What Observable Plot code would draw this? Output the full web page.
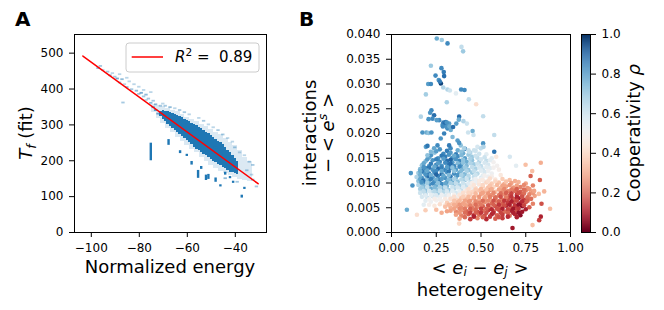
<!DOCTYPE html>
<html><head><meta charset="utf-8">
<script src="https://cdn.jsdelivr.net/npm/d3@7"></script>
<script src="https://cdn.jsdelivr.net/npm/@observablehq/plot@0.6"></script>
<style>
html,body{margin:0;padding:0;background:#fff;}
#wrap{position:relative;width:664px;height:310px;background:#fff;font-family:"DejaVu Sans",sans-serif;}
#wrap svg{position:absolute;left:0;top:0;}
</style></head><body><div id="wrap"></div>
<script>
// ---------------- Panel A data ----------------
const ticksAX = [-100, -80, -60, -40];
const ticksAY = [0, 100, 200, 300, 400, 500];
// dense core of the 2D histogram: energy column, solid range of T_f
const coreE  = [-71,-70,-69,-68,-67,-66,-65,-64,-63,-62,-61,-60,-59,-58,-57,-56,-55,-54,-53,-52,-51,-50,-49,-48,-47,-46,-45,-44,-43,-42,-41,-40,-39];
const coreLo = [324,316,310,302,296,290,284,278,272,268,262,256,250,246,238,232,228,224,218,214,208,204,198,194,190,186,182,178,174,168,166,164,162];
const coreHi = [338,340,338,336,335,332,330,326,323,320,316,312,309,305,302,298,294,290,285,280,276,270,265,260,255,250,244,238,230,222,214,206,198];
// lighter halo around the core
const haloE  = [-74,-72,-70,-68,-66,-64,-62,-60,-58,-56,-54,-52,-50,-48,-46,-44,-42,-40,-38,-36,-34];
const haloLo = [335,318,305,290,278,266,254,242,232,222,210,198,186,178,170,164,158,152,148,145,142];
const haloHi = [358,354,350,345,340,336,330,322,316,310,302,296,288,280,272,262,252,242,228,210,198];
// isolated light cells [energy, T_f, opacity]
const cellsA = [
  [-97,457,.5],[-96,463,.4],[-95,452,.3],[-93,447,.4],[-92,437,.5],[-91,443,.3],[-90,433,.4],[-89,428,.6],
  [-88,440,.3],[-88,417,.4],[-87,426,.5],[-86,412,.3],[-86.6,361,.4],[-85,430,.3],[-85,404,.5],[-84,420,.3],
  [-83,398,.4],[-82,412,.3],[-81,394,.5],[-80,385,.4],[-80,405,.3],[-79,388,.6],[-78,378,.4],[-78,396,.3],
  [-77,383,.5],[-77,368,.3],[-76,372,.4],[-75,390,.3],[-75,360,.5],[-74,366,.4],[-74,348,.6],[-73,356,.5],
  [-73,340,.7],[-72,330,.6],[-71,352,.4],[-70,358,.3],[-69,352,.4],[-67,348,.5],[-65,345,.3],[-63,340,.4],[-61,334,.4],
  [-59,328,.3],[-55,318,.3],[-53,310,.4],[-51,300,.3],[-49,292,.3],[-47,284,.4],[-45,272,.4],[-43,262,.3],
  [-41,252,.3],[-40,236,.4],[-38,222,.3],[-36,214,.3],[-34,196,.4],[-32.5,187,.4],[-32.5,146,.4],
  [-31,127,.4],[-33,160,.3],[-35,172,.4],[-39,140,.4],[-44,150,.5],
  [-64,300,.5],[-58,280,.45],[-52,250,.5],[-48,236,.45],[-56,262,.4],[-46,218,.5],[-62,290,.4]
];
// solid vertical streaks below the trend [energy, T_f low, T_f high]
const streaksA = [
  [-75,200,249],[-67.6,243,259],[-62.8,220,228],[-58,188,198],[-55.3,151,173],[-52,145,160],
  [-51,148,162],[-48,140,152],[-46,127,133],[-42,150,156],[-40.7,137,143],[-37.1,96,104],
  [-36,120,126],[-44,160,168],[-54,176,184],[-60,212,218]
];
// fitted line
const fitE = [-103.5, -30.5];
const fitT = [492, 136];

// ---------------- Panel B data ----------------
const ticksBX = [0, 0.25, 0.5, 0.75, 1.0];
const ticksBY = [0, 0.005, 0.01, 0.015, 0.02, 0.025, 0.03, 0.035, 0.04];
const ticksCB = [0, 0.2, 0.4, 0.6, 0.8, 1.0];
// [heterogeneity, interactions, cooperativity]
const blueCloud = [
  [.27,.0168,.8],[.33,.0170,.82],[.37,.0166,.75],[.41,.0169,.85],[.47,.0165,.6],
  [.24,.0161,.7],[.29,.0159,.82],[.33,.0161,.78],[.36,.0158,.85],[.40,.0160,.75],[.44,.0161,.65],[.49,.0159,.6],[.53,.0158,.55],
  [.21,.0152,.75],[.26,.0150,.8],[.30,.0153,.85],[.34,.0151,.8],[.37,.0154,.82],[.41,.0150,.78],[.45,.0153,.68],[.48,.0151,.62],[.52,.0152,.6],[.56,.0150,.55],
  [.19,.0144,.72],[.23,.0146,.8],[.27,.0143,.82],[.31,.0145,.88],[.34,.0142,.78],[.38,.0145,.83],[.42,.0143,.75],[.45,.0146,.7],[.49,.0143,.65],[.53,.0145,.62],[.57,.0142,.5],
  [.17,.0136,.7],[.21,.0134,.78],[.25,.0137,.85],[.28,.0135,.8],[.32,.0138,.86],[.35,.0134,.82],[.39,.0137,.78],[.42,.0135,.72],[.46,.0138,.68],[.50,.0134,.62],[.54,.0137,.58],[.59,.0135,.5],
  [.16,.0128,.72],[.19,.0130,.82],[.23,.0127,.8],[.26,.0129,.88],[.30,.0126,.83],[.33,.0130,.85],[.36,.0127,.78],[.40,.0129,.75],[.43,.0126,.7],[.47,.0129,.66],[.51,.0127,.6],[.55,.0130,.55],[.60,.0127,.48],
  [.15,.0120,.68],[.18,.0122,.78],[.21,.0119,.85],[.24,.0121,.82],[.28,.0118,.9],[.31,.0122,.8],[.35,.0119,.82],[.38,.0121,.75],[.41,.0118,.72],[.45,.0121,.68],[.48,.0119,.64],[.52,.0122,.58],[.56,.0119,.52],
  [.14,.0112,.65],[.17,.0110,.8],[.20,.0113,.88],[.23,.0111,.78],[.26,.0114,.83],[.30,.0110,.8],[.33,.0113,.85],[.36,.0111,.72],[.40,.0114,.7],[.43,.0110,.68],[.46,.0112,.62],[.50,.0110,.58],[.54,.0113,.52],
  [.15,.0104,.7],[.18,.0102,.82],[.21,.0105,.75],[.24,.0103,.8],[.27,.0106,.86],[.31,.0102,.78],[.34,.0105,.76],[.37,.0103,.7],[.41,.0106,.68],[.44,.0102,.62],[.48,.0104,.58],[.52,.0103,.52],
  [.15,.0096,.65],[.18,.0094,.72],[.21,.0097,.8],[.25,.0095,.75],[.28,.0098,.82],[.31,.0094,.72],[.35,.0097,.7],[.38,.0095,.66],[.42,.0096,.62],[.45,.0094,.58],[.49,.0097,.55],
  [.16,.0088,.66],[.19,.0086,.7],[.22,.0089,.75],[.25,.0087,.7],[.29,.0090,.72],[.32,.0086,.68],[.35,.0089,.64],[.39,.0087,.62],[.42,.0088,.58],[.46,.0086,.55],
  [.16,.0080,.6],[.19,.0078,.66],[.22,.0081,.62],[.26,.0079,.68],[.29,.0082,.64],[.32,.0078,.6],[.36,.0080,.58],[.39,.0079,.56],[.43,.0081,.52],
  [.17,.0072,.58],[.20,.0070,.6],[.23,.0073,.58],[.27,.0071,.55],[.30,.0074,.56],[.33,.0070,.53],[.37,.0072,.52],[.40,.0071,.5],
  [.19,.0064,.55],[.22,.0062,.52],[.25,.0065,.5],[.28,.0063,.48],[.32,.0064,.5],[.35,.0062,.46],
  [.21,.0056,.48],[.24,.0054,.45],[.27,.0057,.42],[.30,.0055,.44],[.18,.0056,.55]
];
// in-between points of the dense blue core
const blueCore2 = [
  [.25,.0164,.78],[.31,.0165,.85],[.39,.0163,.7],[.43,.0166,.62],
  [.22,.0156,.8],[.28,.0155,.86],[.32,.0157,.8],[.35,.0155,.75],[.39,.0156,.72],[.43,.0157,.68],[.47,.0155,.6],
  [.20,.0148,.78],[.25,.0148,.84],[.29,.0149,.78],[.33,.0147,.9],[.36,.0148,.8],[.40,.0147,.7],[.44,.0149,.66],[.50,.0148,.58],[.55,.0146,.55],
  [.18,.0140,.76],[.22,.0139,.85],[.26,.0140,.78],[.30,.0141,.82],[.33,.0139,.88],[.37,.0140,.72],[.40,.0141,.7],[.44,.0140,.65],[.48,.0139,.6],[.52,.0141,.58],
  [.18,.0132,.8],[.21,.0131,.86],[.24,.0133,.76],[.28,.0131,.84],[.31,.0132,.78],[.34,.0131,.7],[.38,.0133,.82],[.41,.0131,.68],[.45,.0132,.62],[.49,.0131,.58],[.53,.0132,.55],[.57,.0131,.5],
  [.17,.0124,.85],[.20,.0125,.76],[.25,.0124,.82],[.28,.0124,.76],[.32,.0123,.86],[.35,.0124,.7],[.39,.0125,.72],[.42,.0124,.66],[.46,.0124,.62],[.50,.0125,.56],[.54,.0124,.52],
  [.16,.0116,.74],[.19,.0117,.8],[.22,.0116,.74],[.25,.0117,.9],[.29,.0115,.76],[.32,.0116,.72],[.37,.0116,.8],[.39,.0116,.66],[.43,.0115,.64],[.47,.0116,.6],[.51,.0115,.55],
  [.16,.0108,.76],[.19,.0107,.7],[.22,.0108,.84],[.25,.0107,.74],[.28,.0108,.78],[.32,.0107,.72],[.35,.0108,.66],[.39,.0107,.64],[.42,.0108,.6],[.46,.0107,.56],[.50,.0108,.52],
  [.17,.0099,.74],[.20,.0100,.68],[.23,.0099,.82],[.26,.0100,.7],[.30,.0099,.76],[.33,.0100,.66],[.36,.0099,.62],[.40,.0100,.6],[.43,.0099,.56],[.47,.0100,.52],
  [.17,.0091,.68],[.20,.0092,.62],[.24,.0091,.72],[.27,.0092,.66],[.30,.0091,.62],[.34,.0092,.6],[.37,.0091,.58],[.40,.0092,.56],[.44,.0091,.52],
  [.18,.0083,.62],[.21,.0084,.58],[.24,.0083,.64],[.27,.0084,.6],[.31,.0083,.58],[.34,.0084,.55],[.38,.0083,.54],[.41,.0084,.5],
  [.19,.0075,.56],[.22,.0076,.54],[.25,.0075,.57],[.28,.0076,.52],[.32,.0075,.5],[.35,.0076,.49],[.38,.0075,.48],
  [.21,.0067,.5],[.24,.0068,.48],[.27,.0067,.5],[.30,.0068,.46],[.34,.0067,.47],[.37,.0066,.44]
];
// blue points just above the dense cloud
const blueUpper = [
  [.266,.0227,.82],[.285,.0217,.8],[.303,.0223,.86],[.322,.0220,.78],[.313,.0210,.82],[.331,.0207,.75],
  [.294,.0200,.84],[.275,.0190,.8],[.341,.0193,.72],[.369,.0186,.78],[.387,.0176,.7],[.406,.0170,.66],
  [.434,.0163,.62],[.461,.0166,.6],[.48,.0173,.58],[.499,.0170,.62],[.257,.0176,.82],[.238,.0170,.76],
  [.22,.0163,.72],[.192,.0173,.78],[.201,.0156,.7],[.322,.0176,.85]
];
const redCloud = [
  [.52,.0115,.5],[.56,.0113,.48],[.61,.0116,.45],
  [.47,.0108,.52],[.51,.0106,.46],[.55,.0109,.42],[.58,.0107,.44],[.62,.0108,.38],[.66,.0106,.35],
  [.45,.0100,.48],[.49,.0098,.44],[.53,.0101,.4],[.56,.0099,.38],[.60,.0101,.36],[.63,.0098,.32],[.67,.0100,.3],[.71,.0102,.33],[.75,.0099,.3],
  [.44,.0092,.46],[.47,.0090,.42],[.51,.0093,.38],[.54,.0091,.35],[.57,.0092,.4],[.61,.0090,.33],[.64,.0093,.3],[.68,.0091,.28],[.72,.0092,.25],[.76,.0090,.28],
  [.42,.0084,.44],[.45,.0082,.4],[.49,.0085,.36],[.52,.0083,.33],[.55,.0086,.3],[.58,.0082,.35],[.62,.0085,.28],[.65,.0083,.25],[.69,.0084,.22],[.72,.0082,.2],[.75,.0085,.25],[.78,.0083,.3],
  [.38,.0076,.44],[.41,.0074,.42],[.44,.0077,.38],[.47,.0075,.35],[.50,.0078,.3],[.53,.0074,.33],[.56,.0076,.28],[.60,.0075,.24],[.63,.0077,.27],[.66,.0074,.2],[.70,.0076,.15],[.73,.0075,.2],[.77,.0077,.25],[.80,.0074,.3],
  [.33,.0068,.42],[.36,.0066,.4],[.39,.0069,.36],[.42,.0067,.34],[.46,.0069,.3],[.49,.0066,.32],[.52,.0068,.27],[.55,.0067,.3],[.58,.0069,.22],[.62,.0066,.25],[.65,.0068,.18],[.68,.0067,.2],[.71,.0069,.08],[.74,.0066,.15],[.78,.0068,.22],
  [.31,.0060,.38],[.34,.0058,.36],[.37,.0061,.33],[.40,.0059,.3],[.43,.0062,.28],[.46,.0058,.32],[.49,.0060,.25],[.52,.0061,.28],[.56,.0059,.22],[.59,.0062,.26],[.62,.0058,.2],[.65,.0060,.15],[.68,.0061,.18],[.72,.0059,.1],[.75,.0061,.2],[.79,.0058,.25],
  [.30,.0052,.35],[.33,.0050,.32],[.36,.0053,.3],[.39,.0051,.27],[.42,.0054,.3],[.45,.0050,.24],[.48,.0052,.26],[.51,.0053,.2],[.55,.0050,.25],[.58,.0053,.18],[.61,.0051,.22],[.64,.0054,.12],[.67,.0050,.2],[.70,.0052,.15],[.73,.0053,.06],[.77,.0051,.2],
  [.33,.0044,.3],[.36,.0042,.26],[.39,.0045,.28],[.42,.0043,.2],[.45,.0046,.25],[.48,.0042,.18],[.51,.0044,.22],[.54,.0045,.15],[.57,.0043,.2],[.60,.0046,.17],[.63,.0042,.22],[.67,.0044,.1],[.70,.0045,.18],[.73,.0042,.08],
  [.36,.0036,.3],[.39,.0034,.25],[.43,.0037,.2],[.46,.0035,.12],[.49,.0036,.22],[.52,.0034,.18],[.56,.0037,.1],[.59,.0035,.2],[.62,.0036,.15],[.66,.0034,.22],[.69,.0037,.12],[.72,.0035,.05],
  [.38,.0028,.3],[.44,.0027,.15],[.48,.0029,.25],[.53,.0027,.12],[.58,.0028,.2],[.62,.0029,.15],
  [.19,.0045,.38],[.25,.0046,.35],[.28,.0040,.32],[.31,.0043,.3]
];
// in-between points of the dense red core
const redCore2 = [
  [.49,.0104,.46],[.54,.0104,.42],[.58,.0103,.4],[.64,.0103,.36],[.69,.0104,.32],
  [.46,.0096,.44],[.51,.0096,.4],[.55,.0095,.36],[.59,.0096,.34],[.62,.0095,.3],[.66,.0096,.28],[.70,.0095,.3],[.74,.0096,.26],
  [.43,.0088,.42],[.47,.0087,.38],[.50,.0088,.34],[.53,.0087,.36],[.56,.0088,.32],[.60,.0087,.3],[.63,.0088,.26],[.67,.0087,.24],[.70,.0088,.2],[.74,.0087,.22],[.77,.0088,.28],
  [.40,.0080,.42],[.43,.0080,.4],[.47,.0079,.34],[.51,.0080,.3],[.54,.0079,.28],[.57,.0080,.26],[.61,.0079,.22],[.64,.0080,.2],[.67,.0079,.16],[.71,.0080,.18],[.74,.0079,.22],[.79,.0080,.28],
  [.35,.0072,.42],[.40,.0072,.38],[.43,.0072,.34],[.46,.0071,.3],[.49,.0072,.28],[.52,.0071,.3],[.55,.0072,.25],[.58,.0071,.22],[.61,.0072,.18],[.64,.0071,.24],[.67,.0072,.14],[.70,.0071,.1],[.73,.0072,.18],[.76,.0071,.22],
  [.35,.0064,.36],[.38,.0064,.34],[.41,.0064,.3],[.44,.0064,.28],[.47,.0063,.26],[.51,.0064,.22],[.54,.0064,.26],[.57,.0064,.18],[.60,.0063,.2],[.63,.0064,.14],[.67,.0063,.1],[.70,.0064,.16],[.73,.0063,.12],[.76,.0064,.2],
  [.32,.0056,.34],[.35,.0056,.32],[.38,.0056,.28],[.41,.0056,.3],[.44,.0055,.25],[.47,.0056,.22],[.50,.0056,.24],[.54,.0055,.18],[.57,.0056,.2],[.60,.0056,.14],[.63,.0055,.18],[.66,.0056,.1],[.69,.0055,.14],[.71,.0056,.06],[.74,.0055,.16],
  [.35,.0048,.3],[.38,.0048,.26],[.41,.0048,.24],[.44,.0048,.2],[.47,.0047,.22],[.50,.0048,.16],[.53,.0048,.2],[.56,.0047,.12],[.59,.0048,.18],[.62,.0048,.1],[.65,.0047,.16],[.68,.0048,.08],[.71,.0048,.14],[.75,.0047,.1],
  [.38,.0040,.28],[.41,.0040,.22],[.44,.0040,.16],[.47,.0040,.2],[.50,.0040,.14],[.53,.0040,.18],[.57,.0040,.12],[.61,.0040,.16],[.65,.0040,.2],[.68,.0040,.1],[.71,.0040,.06],
  [.41,.0031,.22],[.46,.0032,.1],[.51,.0031,.2],[.55,.0032,.14],[.60,.0031,.18],[.65,.0032,.12],[.70,.0031,.1]
];
const sparsePoints = [
  [.253,.0392,.75],[.281,.0389,.68],[.313,.0382,.82],[.391,.0375,.62],[.40,.0366,.68],
  [.22,.0337,.68],[.279,.0332,.82],[.292,.0324,.85],[.246,.0317,.82],[.294,.0316,.88],[.264,.0308,.8],
  [.205,.030,.78],[.22,.030,.82],[.276,.0301,.97],[.27,.0305,.85],[.289,.0293,.65],[.313,.0289,.65],
  [.326,.0287,.6],[.389,.0289,.82],[.408,.0288,.82],[.36,.0281,.55],[.192,.0279,.67],[.309,.0263,.66],
  [.473,.0259,.42],[.432,.0269,.62],
  [.164,.0234,.65],[.223,.0247,.82],[.216,.0242,.8],[.238,.0237,.88],[.207,.0229,.8],[.229,.0230,.82],
  [.253,.0227,.78],[.29,.0222,.85],[.30,.0220,.88],[.309,.0222,.8],[.287,.0214,.82],[.309,.0213,.8],
  [.324,.0214,.75],[.344,.0213,.88],[.378,.0234,.88],[.376,.0228,.75],[.402,.0225,.65],[.362,.0220,.78],
  [.421,.0220,.6],[.453,.0205,.75],[.512,.0235,.62],[.574,.0197,.62],
  [.173,.0202,.8],[.195,.0202,.75],[.207,.0201,.7],[.223,.0202,.8],[.201,.0175,.86],[.428,.0202,.6],
  [.458,.0197,.6],[.378,.0181,.8],[.512,.0180,.8],[.514,.0173,.65],[.574,.0163,.87],[.585,.0153,.45],
  [.661,.0153,.58],[.696,.0135,.55],[.749,.0137,.35],[.777,.0114,.2],[.786,.0124,.35],[.834,.0141,.32],
  [.829,.0106,.2],[.79,.0095,.25],[.797,.0084,.3],[.823,.0078,.35],[.853,.0083,.33],[.838,.0058,.18],
  [.886,.0048,.35],[.834,.0032,.1],[.825,.0025,.15],[.788,.0015,.35],[.676,.0009,.08],
  [.086,.0046,.75],[.142,.0036,.42],[.108,.0120,.8],[.117,.0095,.8],[.160,.0124,.75],[.177,.0105,.87],
  [.168,.0102,.8],[.378,.0018,.4]
];

// ---------------- drawing ----------------
const W = 664, H = 310;
const FONT = '"DejaVu Sans", sans-serif';
const BLUE = "#1f77b4";
const wrap = document.getElementById("wrap");
const baseStyle = {fontFamily: FONT, fontSize: "12px", color: "#000", background: "none", overflow: "visible"};
const minus = d => (d < 0 ? "\u2212" + Math.abs(d) : String(d));

const core = coreE.map((e, i) => ({e, lo: coreLo[i], hi: coreHi[i]}));
const halo = haloE.map((e, i) => ({e, lo: haloLo[i], hi: haloHi[i]}));
const fit = fitE.map((e, i) => ({e, t: fitT[i]}));

const plotA = Plot.plot({
  width: W, height: H,
  marginLeft: 74, marginRight: W - 266, marginTop: 34, marginBottom: H - 232,
  style: baseStyle,
  x: {domain: [-107, -27]},
  y: {domain: [0, 552]},
  marks: [
    Plot.rect(halo, {x1: d => d.e - 1, x2: d => d.e + 1, y1: "lo", y2: "hi", fill: BLUE, fillOpacity: 0.16, inset: 0, shapeRendering: "crispEdges"}),
    Plot.rect(core, {x1: d => d.e - 0.5, x2: d => d.e + 0.5, y1: "lo", y2: "hi", fill: BLUE, inset: 0, shapeRendering: "crispEdges"}),
    Plot.rect(cellsA, {x1: d => d[0] - 0.7, x2: d => d[0] + 0.7, y1: d => d[1] - 2.5, y2: d => d[1] + 2.5, fill: BLUE, fillOpacity: d => d[2], inset: 0}),
    Plot.rect(streaksA, {x1: d => d[0] - 0.5, x2: d => d[0] + 0.5, y1: d => d[1], y2: d => d[2], fill: BLUE, inset: 0}),
    Plot.line(fit, {x: "e", y: "t", stroke: "#ff0000", strokeWidth: 1.5}),
    Plot.frame({stroke: "#000", strokeWidth: 1}),
    Plot.axisX({ticks: ticksAX, tickFormat: minus, tickSize: 5, tickPadding: 6, label: null, fontSize: 12}),
    Plot.axisY({ticks: ticksAY, tickSize: 5, tickPadding: 6, label: null, fontSize: 12})
  ]
});

const pointsB = blueCloud.concat(blueCore2, blueUpper, redCloud, redCore2, sparsePoints);
const colorOpts = {type: "linear", scheme: "RdBu", domain: [0, 1]};
const plotB = Plot.plot({
  width: W, height: H,
  marginLeft: 391, marginRight: W - 570, marginTop: 34, marginBottom: H - 232,
  style: baseStyle,
  x: {domain: [0, 1]},
  y: {domain: [0, 0.04]},
  color: colorOpts,
  marks: [
    Plot.dot(pointsB, {x: d => d[0], y: d => d[1], fill: d => d[2], r: 2.3, stroke: "none"}),
    Plot.frame({stroke: "#000", strokeWidth: 1}),
    Plot.axisX({ticks: ticksBX, tickFormat: d3.format(".2f"), tickSize: 5, tickPadding: 6, label: null, fontSize: 12}),
    Plot.axisY({ticks: ticksBY, tickFormat: d3.format(".3f"), tickSize: 5, tickPadding: 6, label: null, fontSize: 12})
  ]
});

const cbSteps = d3.range(0, 1, 0.005);
const plotC = Plot.plot({
  width: W, height: H,
  marginLeft: 581, marginRight: W - 590, marginTop: 34, marginBottom: H - 232,
  style: baseStyle,
  x: {domain: [0, 1], axis: null},
  y: {domain: [0, 1]},
  color: colorOpts,
  marks: [
    Plot.rect(cbSteps, {x1: 0, x2: 1, y1: d => d, y2: d => d + 0.0051, fill: d => d + 0.0025, inset: 0}),
    Plot.frame({stroke: "#000", strokeWidth: 1}),
    Plot.axisY({anchor: "right", ticks: ticksCB, tickFormat: d3.format(".1f"), tickSize: 5, tickPadding: 6, label: null, fontSize: 12})
  ]
});

wrap.append(plotA, plotB, plotC);

// ---------- text overlay: panel letters, axis titles, legend ----------
const ov = d3.select(wrap).append("svg").attr("width", W).attr("height", H)
  .style("font-family", FONT);
function txt(x, y, html, opts = {}) {
  const t = ov.append("text").attr("fill", "#000")
    .attr("font-size", opts.size || 18)
    .attr("text-anchor", opts.anchor || "middle")
    .attr("font-weight", opts.weight || "normal");
  if (opts.rotate) t.attr("transform", `translate(${x},${y}) rotate(-90)`);
  else t.attr("x", x).attr("y", y);
  t.html(html);
  return t;
}
txt(15, 26, "A", {size: 20, weight: "bold", anchor: "start"});
txt(299, 26, "B", {size: 20, weight: "bold", anchor: "start"});
txt(170, 273, "Normalized energy");
txt(32, 133, '<tspan font-style="italic">T</tspan><tspan font-style="italic" font-size="12.5" dy="4">f</tspan><tspan dy="-4"> (fit)</tspan>', {rotate: true});
txt(480, 273.5, '&lt; <tspan font-style="italic">e</tspan><tspan font-size="12" font-style="italic" dy="2.5">i</tspan><tspan dy="-2.5"> \u2212 </tspan><tspan font-style="italic">e</tspan><tspan font-size="12" font-style="italic" dy="2.5">j</tspan><tspan dy="-2.5"> &gt;</tspan>');
txt(480, 296, "heterogeneity");
txt(315.5, 133, "interactions", {rotate: true});
txt(334, 133, '\u2212 &lt; <tspan font-style="italic">e</tspan><tspan font-size="12.5" font-style="italic" dy="-7">s</tspan><tspan dy="7"> &gt;</tspan>', {rotate: true});
txt(640, 133, 'Cooperativity <tspan font-style="italic">\u03c1</tspan>', {rotate: true});

// legend of panel A
ov.append("rect").attr("x", 126).attr("y", 43).attr("width", 133).attr("height", 29).attr("rx", 3)
  .attr("fill", "#fff").attr("fill-opacity", 0.8).attr("stroke", "#cccccc");
ov.append("line").attr("x1", 131.7).attr("x2", 163).attr("y1", 57).attr("y2", 57)
  .attr("stroke", "#ff0000").attr("stroke-width", 1.5);
txt(175, 62, '<tspan font-style="italic">R</tspan><tspan font-size="10.5" dy="-6">2</tspan><tspan dy="6"> =\u00a0 0.89</tspan>', {size: 15, anchor: "start"});
</script></body></html>
